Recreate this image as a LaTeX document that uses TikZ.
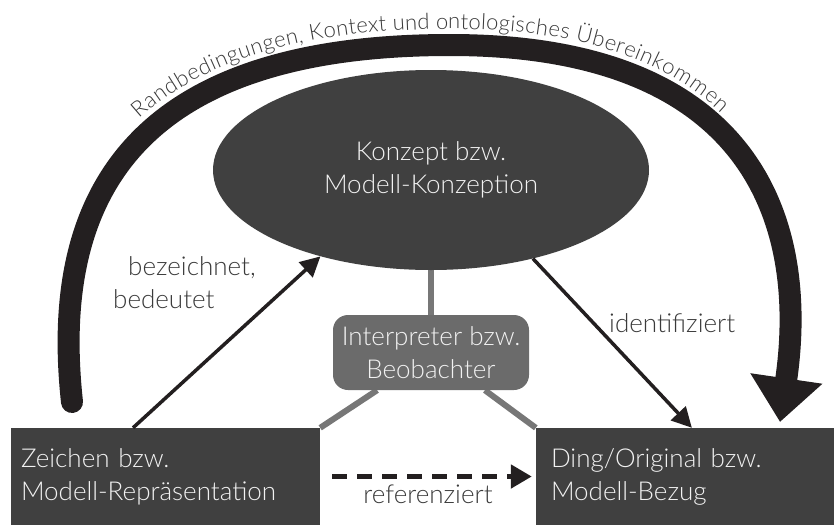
\documentclass[tikz,border=0pt]{standalone}
\usepackage{fontspec}
\setmainfont{Lato Light}
\usetikzlibrary{shapes.geometric, arrows.meta, positioning, calc, decorations.text, backgrounds}

\definecolor{boxgray}{HTML}{404040}
\definecolor{interpgray}{HTML}{6B6B6B}
\definecolor{linegray}{HTML}{777777}
\definecolor{arrowblack}{HTML}{231F20}
\definecolor{edgegray}{HTML}{3A3A3A}
\definecolor{boxtext}{HTML}{F2F2F2}

\begin{document}
\begin{tikzpicture}[
        x=1pt, y=-1pt,
        font=\fontsize{26}{33}\selectfont,
        % styles
        concept/.style={ellipse, fill=boxgray, text=boxtext, minimum width=436pt, minimum height=200pt, align=center, inner sep=0pt},
        corner/.style={rectangle, fill=boxgray, text=boxtext, minimum height=97pt, align=left, inner ysep=0pt},
        observer/.style={rectangle, rounded corners=15pt, fill=interpgray, text=boxtext, minimum width=196pt, minimum height=75pt, align=center, inner sep=0pt},
        link/.style={draw=linegray, line width=6pt},
        arrow/.style={draw=arrowblack, line width=3.5pt, -{Triangle[length=20pt,width=20pt]}},
        edgetext/.style={text=edgegray, inner sep=0pt} ]

    \useasboundingbox (0,0) rectangle (834,525);

    % --- NODES ---
    \node (konzept) [concept] at (431,170) {Konzept bzw.\\Modell-Konzeption};
    \node (interp)  [observer] at (431,352.5) {Interpreter bzw.\\Beobachter};
    \node (zeichen) [corner, minimum width=309pt, text width=289pt, inner xsep=10pt] at (165.5,476.5) {Zeichen bzw.\\Modell-Repräsentation};
    \node (ding)    [corner, minimum width=298pt, text width=268pt, inner xsep=15pt] at (685,476.5) {Ding/Original bzw.\\Modell-Bezug};

    % --- LINKS TO THE INTERPRETER ---
    \begin{scope}[on background layer]
        \draw [link] (konzept.south) -- (interp.north);
        \draw [link] (interp.215) -- (zeichen.north east);
        \draw [link] (interp.325) -- (ding.north west);
    \end{scope}

    % --- ARROWS ---
    \draw [arrow] ($(zeichen.north west)!.395!(zeichen.north east)$) -- (konzept.218);
    \draw [arrow] (konzept.319) -- ($(ding.north west)!.523!(ding.north east)$);
    \draw [draw=arrowblack, line width=5pt, dash pattern=on 15pt off 10pt, -{Triangle[length=21pt,width=23pt]}, shorten <=12pt, shorten >=4pt] (zeichen.east) -- (ding.west);

    \node (lbez)   [edgetext, anchor=base west, align=left] at (113,308) {\hspace*{15pt}bezeichnet,\\bedeutet};
    \node (lident) [edgetext, anchor=base west] at (609,332) {identifiziert};
    \node (lref)   [edgetext, anchor=base] at (428,503) {referenziert};

    % --- BIG ARC ---
    \coordinate (arcstart) at (72,402);
    \coordinate (arctop) at (450,45);
    \coordinate (arcend) at (780,422);
    \draw [draw=arrowblack, line width=22pt, line cap=round, -{Triangle[length=44pt,width=70pt]}]
        (arcstart) .. controls (50,200) and (130,45) .. (arctop) .. controls (760,45) and (808,230) .. (arcend);
    \path [decorate, decoration={text along path, text align={align=center, right indent=24pt}, raise=16pt, text color=edgegray,
        text={|\fontsize{22}{22}\selectfont|Randbedingungen, Kontext und ontologisches Übereinkommen}}]
        (arcstart) .. controls (50,200) and (130,45) .. (arctop) .. controls (760,45) and (808,230) .. (arcend);

\end{tikzpicture}
\end{document}
